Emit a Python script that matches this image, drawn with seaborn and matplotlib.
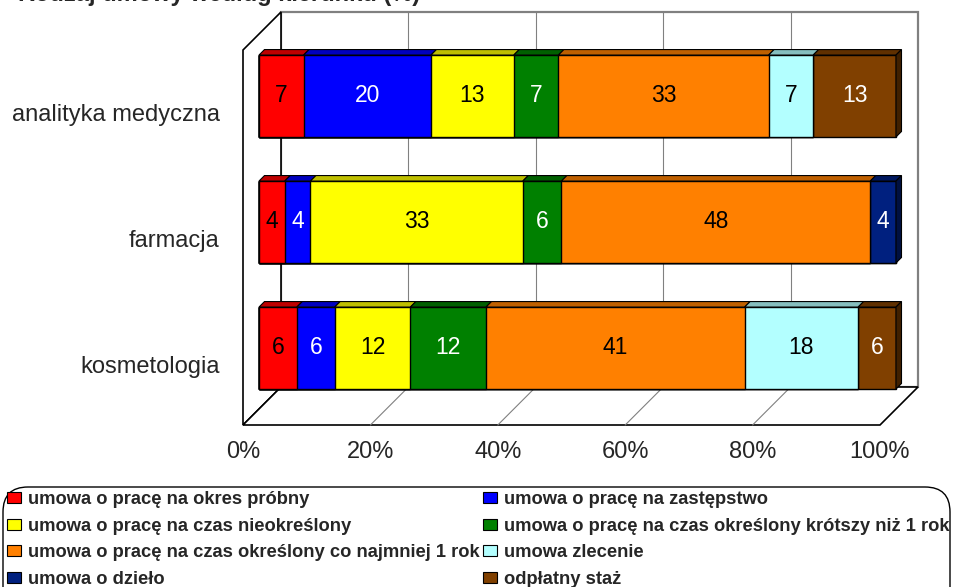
"""
Stacked 100% bar chart (pseudo-3D, Excel style): type of contract by field of study.
"""

import numpy as np
import matplotlib
matplotlib.use("Agg")
import matplotlib.pyplot as plt
import seaborn as sns
from matplotlib.patches import Polygon, Patch, FancyBboxPatch
from matplotlib.transforms import ScaledTranslation

# --- data -------------------------------------------------------------
categories = ["analityka medyczna", "farmacja", "kosmetologia"]

series_names = [
    "umowa o pracę na okres próbny",
    "umowa o pracę na zastępstwo",
    "umowa o pracę na czas nieokreślony",
    "umowa o pracę na czas określony krótszy niż 1 rok",
    "umowa o pracę na czas określony co najmniej 1 rok",
    "umowa zlecenie",
    "umowa o dzieło",
    "odpłatny staż",
]
series_colors = ["#FF0000", "#0000FF", "#FFFF00", "#008000",
                 "#FF8000", "#B3FFFF", "#00207F", "#804000"]
label_colors = ["black", "white", "black", "white",
                "black", "black", "white", "white"]

probny = [7, 4, 6]
zastepstwo = [20, 4, 6]
nieokreslony = [13, 33, 12]
krotszy = [7, 6, 12]
co_najmniej = [33, 48, 41]
zlecenie = [7, 0, 18]
dzielo = [0, 4, 0]
staz = [13, 0, 6]

x_ticks = [0, 20, 40, 60, 80, 100]
x_tick_labels = ["0%", "20%", "40%", "60%", "80%", "100%"]

title = "Rodzaj umowy według kierunku (%)"

# --- layout (pixels) ----------------------------------------------------
DPI = 100
W, H = 954, 587
X0, PPX = 259, 6.37      # 0 % on the bar front face, px per percent
Y0, PPY = 96, 126        # first category centre, px per category
AX_L, AX_R, AX_T, AX_B = 235, 935, 0, 440
BAR_W = 0.65
D_FRONT, D_BACK, D_BAR = -16, 22, 5.5
Y_TOP, Y_FLOOR = (34 - Y0) / PPY, (409 - Y0) / PPY


def depth(x, y, d):
    """Shift a data point backwards into the scene by d pixels."""
    return x + d / PPX, y - d / PPY


def darker(color, f):
    r, g, b = matplotlib.colors.to_rgb(color)
    return (r * f, g * f, b * f)


def main():
    sns.set_style("white")
    plt.rcParams["font.family"] = ["Liberation Sans", "DejaVu Sans"]

    values = np.array([probny, zastepstwo, nieokreslony, krotszy,
                       co_najmniej, zlecenie, dzielo, staz], dtype=float)
    pct = values / values.sum(axis=0) * 100
    cum = pct.cumsum(axis=0)

    fig = plt.figure(figsize=(W / DPI, H / DPI), dpi=DPI)
    ax = fig.add_axes([AX_L / W, 1 - AX_B / H, (AX_R - AX_L) / W, (AX_B - AX_T) / H])

    # back wall, left wall, floor
    wall = [depth(0, Y_TOP, D_BACK), depth(100, Y_TOP, D_BACK),
            depth(100, Y_FLOOR, D_BACK), depth(0, Y_FLOOR, D_BACK)]
    ax.add_patch(Polygon(wall, closed=True, facecolor="white",
                         edgecolor="#808080", lw=1.6, zorder=0))
    side = [depth(0, Y_TOP, D_BACK), depth(0, Y_TOP, D_FRONT),
            depth(0, Y_FLOOR, D_FRONT), depth(0, Y_FLOOR, D_BACK)]
    ax.add_patch(Polygon(side, closed=True, facecolor="white",
                         edgecolor="black", lw=1.2, zorder=1))
    floor = [depth(0, Y_FLOOR, D_FRONT), depth(100, Y_FLOOR, D_FRONT),
             depth(100, Y_FLOOR, D_BACK), depth(0, Y_FLOOR, D_BACK)]
    ax.add_patch(Polygon(floor, closed=True, facecolor="white",
                         edgecolor="black", lw=1.2, zorder=1))
    for t in x_ticks[1:-1]:
        xs, ys = zip(depth(t, Y_TOP, D_BACK), depth(t, Y_FLOOR, D_BACK))
        ax.plot(xs, ys, color="#808080", lw=0.8, zorder=1)
        xs, ys = zip(depth(t, Y_FLOOR, D_FRONT), depth(t, Y_FLOOR, D_BACK))
        ax.plot(xs, ys, color="#808080", lw=0.8, zorder=1)

    # stacked bars: draw cumulative totals from the last series backwards
    for i in range(len(series_names) - 1, -1, -1):
        sns.barplot(x=cum[i], y=categories, orient="h", color=series_colors[i],
                    saturation=1, width=BAR_W, edgecolor="black", linewidth=1,
                    errorbar=None, ax=ax, zorder=3)

    # top / side faces and value labels
    for j in range(len(categories)):
        top, bottom = j - BAR_W / 2, j + BAR_W / 2
        last = None
        for i in range(len(series_names)):
            if values[i, j] == 0:
                continue
            last = i
            left, right = cum[i, j] - pct[i, j], cum[i, j]
            face = [(left, top), (right, top),
                    depth(right, top, D_BAR), depth(left, top, D_BAR)]
            ax.add_patch(Polygon(face, closed=True,
                                 facecolor=darker(series_colors[i], 0.75),
                                 edgecolor="black", lw=0.8, zorder=4))
            ax.text((left + right) / 2, j, f"{int(values[i, j])}",
                    ha="center", va="center", fontsize=16.5,
                    color=label_colors[i], zorder=5)
        face = [(100, top), (100, bottom),
                depth(100, bottom, D_BAR), depth(100, top, D_BAR)]
        ax.add_patch(Polygon(face, closed=True,
                             facecolor=darker(series_colors[last], 0.5),
                             edgecolor="black", lw=0.8, zorder=4))

    ax.set_xlim((AX_L - X0) / PPX, (AX_R - X0) / PPX)
    ax.set_ylim((AX_B - Y0) / PPY, (AX_T - Y0) / PPY)
    ax.set_xticks(x_ticks, x_tick_labels)
    ax.set_yticks(range(len(categories)), categories)
    ax.tick_params(axis="x", length=0, labelsize=17, pad=0.5)
    ax.tick_params(axis="y", length=0, labelsize=17, pad=11)
    for lab in ax.get_xticklabels():
        lab.set_transform(lab.get_transform() +
                          ScaledTranslation(D_FRONT / DPI, 0, fig.dpi_scale_trans))
    for lab in ax.get_yticklabels():
        lab.set_transform(lab.get_transform() +
                          ScaledTranslation(0, D_FRONT / DPI, fig.dpi_scale_trans))
    ax.set_xlabel("")
    ax.set_ylabel("")
    ax.patch.set_visible(False)
    sns.despine(ax=ax, left=True, bottom=True)

    # title (cropped at the top like in the source image)
    fig.text(420 / W, 1 - 1 / H, title, ha="right", va="baseline",
             fontsize=17, fontweight="bold")

    # legend: two columns, filled row by row
    handles = [Patch(facecolor=c, edgecolor="black", linewidth=0.8) for c in series_colors]
    for col, x_px in ((0, 7), (1, 483)):
        idx = list(range(col, len(series_names), 2))
        fig.legend([handles[i] for i in idx], [series_names[i] for i in idx],
                   loc="upper left", bbox_to_anchor=(x_px / W, 1 - 491 / H),
                   frameon=False, borderpad=0, borderaxespad=0,
                   handlelength=0.78, handleheight=0.55, handletextpad=0.35,
                   labelspacing=0.53, prop={"weight": "bold", "size": 13.2})
    fig.add_artist(FancyBboxPatch((3 / DPI, -0.4), 947 / DPI, (H - 487) / DPI + 0.4,
                                  boxstyle="round,pad=0,rounding_size=0.25",
                                  transform=fig.dpi_scale_trans, fill=False,
                                  edgecolor="black", lw=1))

    fig.savefig("out.png", dpi=DPI)


if __name__ == "__main__":
    main()
